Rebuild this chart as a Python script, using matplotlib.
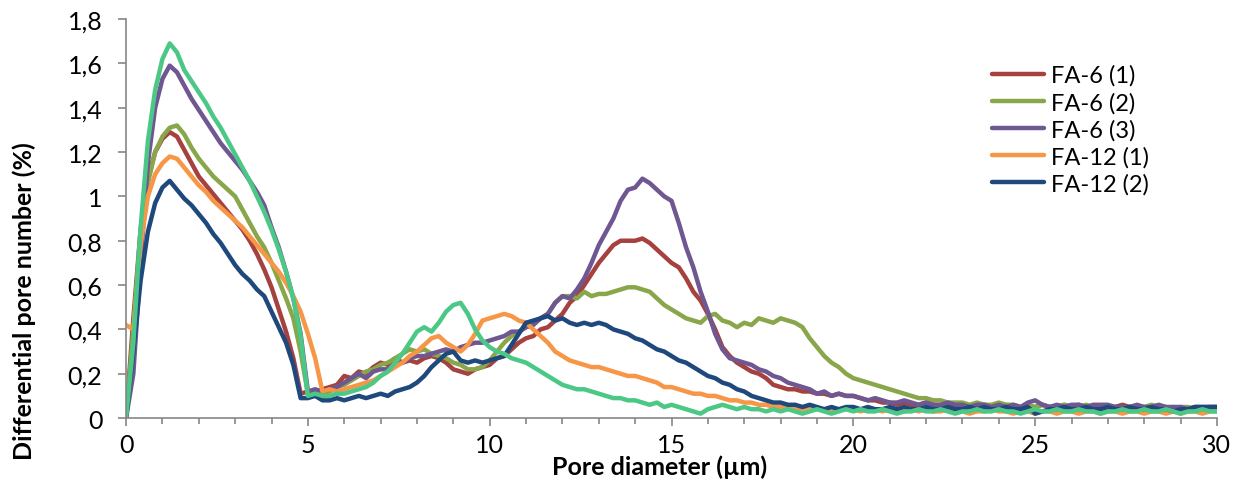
import numpy as np
import matplotlib.pyplot as plt
from matplotlib.ticker import FuncFormatter, MultipleLocator

plt.rcParams['font.family'] = ['Lato', 'DejaVu Sans']

# pore diameter grid (µm), step 0.2
diameter = np.round(np.arange(0, 30.01, 0.2), 1)

fa6_1 = [0.00, 0.45, 0.85, 1.08, 1.20, 1.26, 1.29, 1.27, 1.21, 1.15,
         1.09, 1.05, 1.01, 0.97, 0.93, 0.89, 0.85, 0.80, 0.74, 0.67,
         0.59, 0.49, 0.39, 0.27, 0.11, 0.12, 0.11, 0.13, 0.14, 0.15,
         0.19, 0.18, 0.21, 0.20, 0.23, 0.25, 0.24, 0.27, 0.25, 0.26,
         0.25, 0.27, 0.28, 0.27, 0.25, 0.22, 0.21, 0.20, 0.22, 0.23,
         0.24, 0.27, 0.28, 0.31, 0.34, 0.36, 0.37, 0.40, 0.41, 0.44,
         0.47, 0.52, 0.55, 0.60, 0.65, 0.70, 0.74, 0.78, 0.80, 0.80,
         0.80, 0.81, 0.79, 0.76, 0.73, 0.70, 0.68, 0.63, 0.57, 0.53,
         0.47, 0.40, 0.32, 0.28, 0.25, 0.23, 0.21, 0.20, 0.18, 0.15,
         0.14, 0.13, 0.13, 0.12, 0.12, 0.11, 0.11, 0.10, 0.11, 0.10,
         0.10, 0.09, 0.08, 0.08, 0.07, 0.07, 0.06, 0.07, 0.06, 0.06,
         0.07, 0.06, 0.05, 0.06, 0.05, 0.06, 0.05, 0.05, 0.06, 0.05,
         0.05, 0.06, 0.05, 0.04, 0.05, 0.05, 0.06, 0.05, 0.05, 0.06,
         0.05, 0.06, 0.05, 0.05, 0.04, 0.05, 0.05, 0.06, 0.05, 0.05,
         0.04, 0.05, 0.05, 0.04, 0.05, 0.04, 0.04, 0.05, 0.04, 0.04,
         0.04]

fa6_2 = [0.00, 0.40, 0.85, 1.06, 1.20, 1.27, 1.31, 1.32, 1.28, 1.22,
         1.17, 1.13, 1.09, 1.06, 1.03, 1.00, 0.94, 0.88, 0.82, 0.77,
         0.70, 0.62, 0.54, 0.45, 0.30, 0.11, 0.12, 0.11, 0.12, 0.14,
         0.15, 0.17, 0.19, 0.21, 0.22, 0.24, 0.25, 0.27, 0.29, 0.31,
         0.30, 0.31, 0.29, 0.28, 0.27, 0.25, 0.24, 0.22, 0.22, 0.23,
         0.26, 0.30, 0.34, 0.37, 0.39, 0.41, 0.43, 0.45, 0.47, 0.52,
         0.55, 0.55, 0.54, 0.57, 0.55, 0.56, 0.56, 0.57, 0.58, 0.59,
         0.59, 0.58, 0.57, 0.54, 0.51, 0.49, 0.47, 0.45, 0.44, 0.43,
         0.46, 0.47, 0.44, 0.43, 0.41, 0.43, 0.42, 0.45, 0.44, 0.43,
         0.45, 0.44, 0.43, 0.41, 0.36, 0.32, 0.28, 0.25, 0.23, 0.20,
         0.18, 0.17, 0.16, 0.15, 0.14, 0.13, 0.12, 0.11, 0.10, 0.09,
         0.09, 0.08, 0.08, 0.07, 0.07, 0.07, 0.06, 0.07, 0.06, 0.06,
         0.07, 0.06, 0.06, 0.05, 0.06, 0.05, 0.06, 0.05, 0.05, 0.06,
         0.05, 0.05, 0.06, 0.05, 0.04, 0.05, 0.05, 0.04, 0.05, 0.05,
         0.05, 0.06, 0.05, 0.05, 0.04, 0.05, 0.05, 0.04, 0.04, 0.05,
         0.05]

fa6_3 = [0.00, 0.20, 0.70, 1.15, 1.40, 1.53, 1.59, 1.56, 1.50, 1.44,
         1.39, 1.34, 1.29, 1.24, 1.20, 1.16, 1.12, 1.07, 1.02, 0.96,
         0.86, 0.77, 0.66, 0.54, 0.38, 0.12, 0.13, 0.12, 0.13, 0.14,
         0.16, 0.18, 0.20, 0.18, 0.21, 0.22, 0.22, 0.24, 0.25, 0.27,
         0.28, 0.28, 0.29, 0.30, 0.31, 0.30, 0.32, 0.33, 0.34, 0.34,
         0.35, 0.36, 0.37, 0.39, 0.39, 0.41, 0.42, 0.45, 0.47, 0.52,
         0.55, 0.54, 0.58, 0.63, 0.70, 0.78, 0.84, 0.90, 0.98, 1.03,
         1.04, 1.08, 1.06, 1.03, 1.00, 0.98, 0.88, 0.77, 0.68, 0.57,
         0.48, 0.38, 0.31, 0.27, 0.26, 0.25, 0.24, 0.22, 0.21, 0.19,
         0.18, 0.16, 0.15, 0.14, 0.13, 0.11, 0.12, 0.10, 0.11, 0.10,
         0.10, 0.09, 0.08, 0.09, 0.08, 0.07, 0.07, 0.08, 0.07, 0.06,
         0.07, 0.06, 0.06, 0.07, 0.06, 0.06, 0.05, 0.06, 0.06, 0.05,
         0.06, 0.05, 0.06, 0.05, 0.07, 0.08, 0.06, 0.05, 0.06, 0.05,
         0.06, 0.06, 0.05, 0.06, 0.06, 0.06, 0.05, 0.05, 0.05, 0.06,
         0.05, 0.05, 0.06, 0.05, 0.05, 0.05, 0.04, 0.05, 0.05, 0.05,
         0.05]

fa12_1 = [0.42, 0.40, 0.78, 1.00, 1.10, 1.15, 1.18, 1.17, 1.13, 1.09,
          1.05, 1.02, 0.98, 0.95, 0.92, 0.89, 0.86, 0.82, 0.78, 0.74,
          0.70, 0.66, 0.61, 0.55, 0.48, 0.38, 0.27, 0.12, 0.13, 0.12,
          0.13, 0.14, 0.15, 0.16, 0.17, 0.19, 0.21, 0.23, 0.25, 0.28,
          0.30, 0.33, 0.36, 0.37, 0.34, 0.32, 0.30, 0.33, 0.38, 0.44,
          0.45, 0.46, 0.47, 0.46, 0.44, 0.43, 0.40, 0.37, 0.34, 0.30,
          0.28, 0.26, 0.25, 0.24, 0.23, 0.23, 0.22, 0.21, 0.20, 0.19,
          0.19, 0.18, 0.17, 0.16, 0.14, 0.14, 0.13, 0.12, 0.11, 0.11,
          0.10, 0.10, 0.09, 0.08, 0.08, 0.07, 0.07, 0.06, 0.06, 0.05,
          0.05, 0.05, 0.04, 0.04, 0.05, 0.04, 0.04, 0.03, 0.04, 0.04,
          0.04, 0.03, 0.04, 0.04, 0.03, 0.04, 0.03, 0.03, 0.04, 0.03,
          0.04, 0.03, 0.03, 0.04, 0.03, 0.03, 0.02, 0.03, 0.03, 0.04,
          0.03, 0.03, 0.02, 0.03, 0.03, 0.02, 0.03, 0.03, 0.02, 0.03,
          0.03, 0.02, 0.03, 0.03, 0.02, 0.03, 0.03, 0.02, 0.03, 0.03,
          0.02, 0.03, 0.03, 0.02, 0.03, 0.02, 0.03, 0.03, 0.02, 0.03,
          0.03]

fa12_2 = [0.00, 0.30, 0.62, 0.84, 0.97, 1.04, 1.07, 1.03, 0.99, 0.96,
          0.92, 0.88, 0.83, 0.79, 0.74, 0.69, 0.65, 0.62, 0.58, 0.55,
          0.48, 0.41, 0.34, 0.24, 0.09, 0.09, 0.10, 0.08, 0.08, 0.09,
          0.08, 0.09, 0.10, 0.09, 0.10, 0.11, 0.10, 0.12, 0.13, 0.14,
          0.16, 0.19, 0.23, 0.26, 0.29, 0.30, 0.26, 0.25, 0.26, 0.25,
          0.26, 0.27, 0.28, 0.33, 0.38, 0.43, 0.44, 0.45, 0.46, 0.44,
          0.45, 0.43, 0.42, 0.43, 0.42, 0.43, 0.42, 0.40, 0.39, 0.38,
          0.36, 0.35, 0.33, 0.31, 0.30, 0.28, 0.26, 0.25, 0.23, 0.21,
          0.19, 0.18, 0.16, 0.15, 0.13, 0.12, 0.10, 0.09, 0.08, 0.07,
          0.07, 0.06, 0.06, 0.05, 0.06, 0.05, 0.04, 0.05, 0.04, 0.05,
          0.05, 0.04, 0.05, 0.04, 0.04, 0.05, 0.04, 0.05, 0.04, 0.04,
          0.05, 0.04, 0.04, 0.05, 0.04, 0.04, 0.05, 0.04, 0.05, 0.04,
          0.04, 0.05, 0.04, 0.04, 0.05, 0.02, 0.03, 0.04, 0.04, 0.05,
          0.04, 0.04, 0.05, 0.04, 0.04, 0.05, 0.04, 0.04, 0.05, 0.04,
          0.04, 0.05, 0.04, 0.04, 0.03, 0.04, 0.04, 0.05, 0.05, 0.05,
          0.05]

# sixth curve (no legend entry in the original)
fa12_3 = [0.00, 0.34, 0.86, 1.25, 1.48, 1.62, 1.69, 1.65, 1.57, 1.52,
          1.47, 1.42, 1.36, 1.31, 1.25, 1.19, 1.13, 1.07, 1.00, 0.93,
          0.85, 0.76, 0.66, 0.54, 0.37, 0.10, 0.11, 0.10, 0.10, 0.11,
          0.11, 0.12, 0.13, 0.14, 0.16, 0.19, 0.21, 0.25, 0.29, 0.34,
          0.39, 0.41, 0.39, 0.43, 0.48, 0.51, 0.52, 0.47, 0.40, 0.35,
          0.32, 0.30, 0.29, 0.27, 0.26, 0.25, 0.23, 0.21, 0.19, 0.17,
          0.15, 0.14, 0.13, 0.13, 0.12, 0.11, 0.10, 0.09, 0.09, 0.08,
          0.08, 0.07, 0.06, 0.07, 0.05, 0.06, 0.05, 0.04, 0.03, 0.02,
          0.04, 0.05, 0.06, 0.05, 0.04, 0.05, 0.04, 0.04, 0.03, 0.04,
          0.03, 0.04, 0.03, 0.02, 0.03, 0.04, 0.03, 0.02, 0.03, 0.04,
          0.03, 0.04, 0.03, 0.03, 0.04, 0.03, 0.02, 0.03, 0.03, 0.04,
          0.03, 0.03, 0.04, 0.03, 0.02, 0.03, 0.03, 0.04, 0.03, 0.03,
          0.04, 0.03, 0.03, 0.02, 0.03, 0.04, 0.03, 0.03, 0.04, 0.03,
          0.03, 0.04, 0.03, 0.03, 0.02, 0.03, 0.03, 0.04, 0.03, 0.03,
          0.04, 0.03, 0.03, 0.04, 0.03, 0.02, 0.03, 0.03, 0.04, 0.03,
          0.03]

series = [
    ('FA-6 (1)', fa6_1, '#A5413F'),
    ('FA-6 (2)', fa6_2, '#89A74A'),
    ('FA-6 (3)', fa6_3, '#6F5791'),
    ('FA-12 (1)', fa12_1, '#F79646'),
    ('FA-12 (2)', fa12_2, '#1F497D'),
    ('_nolegend_', fa12_3, '#4CC886'),
]

fig = plt.figure(figsize=(12.36, 4.89), dpi=100)
ax = fig.add_axes([0.102, 0.143, 0.8826, 0.816])

for label, vals, col in series:
    ax.plot(diameter, vals, color=col, lw=3.2, label=label,
            solid_joinstyle='round', solid_capstyle='round')

ax.set_xlim(0, 30)
ax.set_ylim(0, 1.8)
ax.xaxis.set_major_locator(MultipleLocator(5))
ax.xaxis.set_minor_locator(MultipleLocator(1))
ax.yaxis.set_major_locator(MultipleLocator(0.2))
ax.yaxis.set_major_formatter(FuncFormatter(lambda v, p: f'{v:.1f}'.rstrip('0').rstrip('.').replace('.', ',')))

for s in ['top', 'right']:
    ax.spines[s].set_visible(False)
for s in ['left', 'bottom']:
    ax.spines[s].set_color('#868686')
    ax.spines[s].set_linewidth(1.2)
ax.tick_params(which='major', direction='out', length=6, width=1.2, color='#868686',
               labelsize=18, labelcolor='black')
ax.tick_params(axis='y', pad=11)
ax.tick_params(axis='x', pad=5)
ax.tick_params(which='minor', direction='out', length=4, width=1.2, color='#868686')

ax.set_xlabel('Pore diameter (µm)', fontsize=18, fontweight='bold')
ax.xaxis.set_label_coords(0.489, -0.12)
ax.xaxis.label.set_va('center')
ax.set_ylabel('Differential pore number (%)', fontsize=18, fontweight='bold')
ax.yaxis.set_label_coords(-0.0935, 0.296)
ax.yaxis.label.set_va('center')

leg = ax.legend(loc='upper left', bbox_to_anchor=(0.785, 0.91), frameon=False,
                fontsize=17, handlelength=2.2, handletextpad=0.3, labelspacing=0.24,
                borderaxespad=0)

fig.savefig('out.png', dpi=100)
